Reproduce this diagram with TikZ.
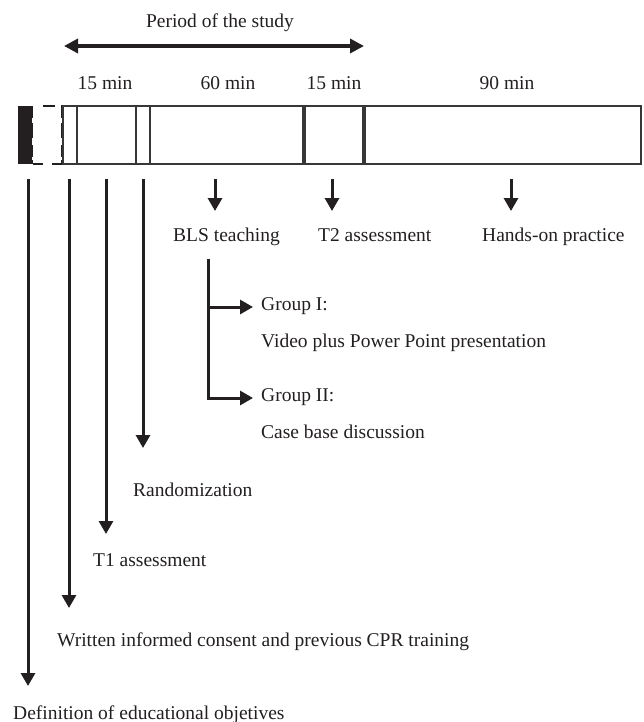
\documentclass[tikz,border=0pt]{standalone}
\usepackage{fontspec}
\setmainfont{Liberation Serif}
\usetikzlibrary{arrows.meta}
\definecolor{ink}{RGB}{35,31,32}
\definecolor{boxline}{RGB}{55,55,55}
\begin{document}
\begin{tikzpicture}[x=1pt,y=-1pt,
  lbl/.style={inner sep=0pt,anchor=base west,text=ink,font=\fontsize{19.5}{23}\selectfont},
  clbl/.style={inner sep=0pt,anchor=base,text=ink,font=\fontsize{19.5}{23}\selectfont},
  darrow/.style={draw=ink,line width=3pt,-{Triangle[length=13pt,width=14pt]}},
  dline/.style={draw=ink,line width=3pt},
  dashseg/.style={draw=ink,line width=2.6pt},
  thinbox/.style={draw=boxline,line width=1.2pt},
  period/.style={draw=ink,line width=3.4pt,{Triangle[length=14pt,width=14pt]}-{Triangle[length=14pt,width=14pt]}}]
\useasboundingbox (0,0) rectangle (643,722);

% top labels
\node[clbl] (period) at (220,28) {Period of the study};
\coordinate (pl) at (64,46);
\coordinate (pr) at (364,46);
\draw[period] (pl) -- (pr);
\node[clbl] (m1) at (105,90) {15 min};
\node[clbl] (m2) at (228,90) {60 min};
\node[clbl] (m3) at (334,90) {15 min};
\node[clbl] (m4) at (507,90) {90 min};

% timeline bar
\fill[ink] (18,106) rectangle (33,164);
% dashed bracket
\draw[dashseg] (43,106) -- (55,106);
\draw[dashseg] (33,164) -- (43,164);
\draw[dashseg] (52,164) -- (63,164);
\draw[dashseg] (62,105) -- (62,118);
\draw[dashseg] (62,123) -- (62,138);
\draw[dashseg] (62,145) -- (62,157);
\draw[dashseg] (62,160) -- (62,165);
\draw[draw=white,line width=1.2pt] (32.3,118) -- (32.3,123) (32.3,138) -- (32.3,145) (32.3,157) -- (32.3,160);
\draw[thinbox] (63,106) rectangle (641,164);
\foreach \xx in {77,136,150,303,305,363,365}{
  \draw[thinbox] (\xx,106) -- (\xx,164);
}

% coordinates for arrow starts
\coordinate (s1) at (28,179);
\coordinate (s2) at (69,179);
\coordinate (s3) at (106,179);
\coordinate (s4) at (143,179);
\coordinate (s5) at (215,179);
\coordinate (s6) at (332,179);
\coordinate (s7) at (511,179);
\coordinate (e1) at (28,686);
\coordinate (e2) at (69,608);
\coordinate (e3) at (106,534);
\coordinate (e4) at (143,448);
\coordinate (e5) at (215,211);
\coordinate (e6) at (332,211);
\coordinate (e7) at (511,211);

\draw[darrow] (s1) -- (e1);
\draw[darrow] (s2) -- (e2);
\draw[darrow] (s3) -- (e3);
\draw[darrow] (s4) -- (e4);
\draw[darrow] (s5) -- (e5);
\draw[darrow] (s6) -- (e6);
\draw[darrow] (s7) -- (e7);

% labels below
\node[lbl] (bls) at (173,241) {BLS teaching};
\node[lbl] (t2) at (318,241) {T2 assessment};
\node[lbl] (hands) at (482,241) {Hands-on practice};

% branch
\coordinate (b0) at (208,259);
\coordinate (b1) at (208,307);
\coordinate (b2) at (208,398);
\coordinate (g1e) at (253,307);
\coordinate (g2e) at (253,398);
\draw[dline] (b0) -- (b2);
\draw[darrow] (b1) -- (g1e);
\draw[darrow] ([xshift=-1.5pt]b2) -- (g2e);

\node[lbl] (g1) at (261,310) {Group I:};
\node[lbl] (g1t) at (261,347) {Video plus Power Point presentation};
\node[lbl] (g2) at (261,401) {Group II:};
\node[lbl] (g2t) at (261,438) {Case base discussion};

\node[lbl] (rand) at (133,496) {Randomization};
\node[lbl] (t1) at (93,566) {T1 assessment};
\node[lbl] (written) at (57,646) {Written informed consent and previous CPR training};
\node[lbl] (defn) at (13,719) {Definition of educational objetives};
\end{tikzpicture}
\end{document}
